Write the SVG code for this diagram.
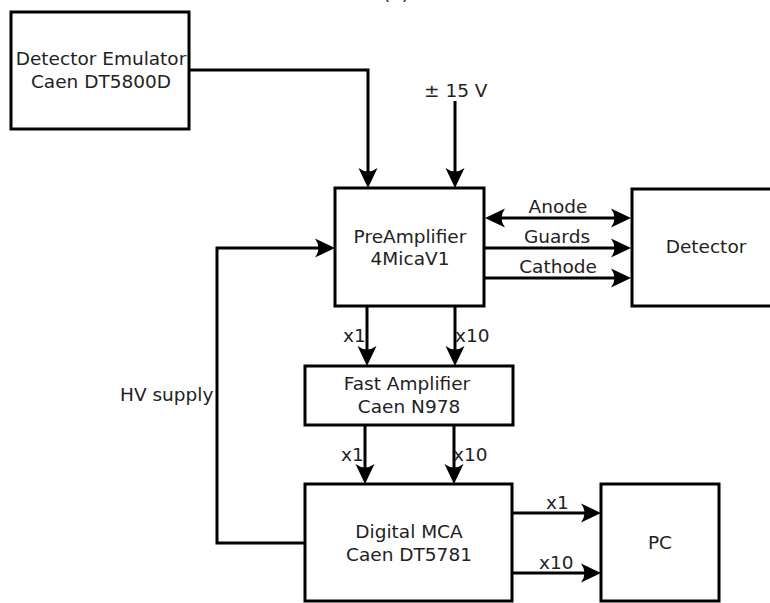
<svg xmlns="http://www.w3.org/2000/svg" xmlns:xlink="http://www.w3.org/1999/xlink" width="770" height="603" viewBox="0 0 770 603">
<style>
.box{fill:#fff;stroke:#000;stroke-width:3}
.ln{fill:none;stroke:#000;stroke-width:3}
text{font-family:"DejaVu Sans",sans-serif;font-size:18.5px;fill:#222}
.c{text-anchor:middle}
</style>
<defs>
<path id="ah" d="M0,0 L-20,-9.5 Q-13,0 -20,9.5 Z" fill="#000"/>
</defs>
<rect width="770" height="603" fill="#fff"/>
<text class="c" x="396" y="0">(a)</text>
<g id="connectors">
<path class="ln" d="M189,70 H368 V180"/>
<use xlink:href="#ah" transform="translate(368,188) rotate(90)"/>
<path class="ln" d="M455,101 V180"/>
<use xlink:href="#ah" transform="translate(455,188) rotate(90)"/>
<path class="ln" d="M493,218 H623"/>
<use xlink:href="#ah" transform="translate(485,218) rotate(180)"/>
<use xlink:href="#ah" transform="translate(631,218)"/>
<path class="ln" d="M484,248 H623"/>
<use xlink:href="#ah" transform="translate(631,248)"/>
<path class="ln" d="M484,278 H623"/>
<use xlink:href="#ah" transform="translate(631,278)"/>
<path class="ln" d="M367,306 V358"/>
<use xlink:href="#ah" transform="translate(367,366) rotate(90)"/>
<path class="ln" d="M455,306 V358"/>
<use xlink:href="#ah" transform="translate(455,366) rotate(90)"/>
<path class="ln" d="M365,425 V476"/>
<use xlink:href="#ah" transform="translate(365,484) rotate(90)"/>
<path class="ln" d="M454,425 V476"/>
<use xlink:href="#ah" transform="translate(454,484) rotate(90)"/>
<path class="ln" d="M512,513 H593"/>
<use xlink:href="#ah" transform="translate(601,513)"/>
<path class="ln" d="M512,573 H593"/>
<use xlink:href="#ah" transform="translate(601,573)"/>
<path class="ln" d="M305,543 H217 V248 H327"/>
<use xlink:href="#ah" transform="translate(335,248)"/>
<text x="424" y="97">± 15 V</text>
<text class="c" x="558" y="213">Anode</text>
<text class="c" x="557" y="243">Guards</text>
<text class="c" x="558" y="273">Cathode</text>
<text x="343" y="342">x1</text>
<text x="455" y="342">x10</text>
<text x="341" y="461">x1</text>
<text x="453" y="461">x10</text>
<text x="546" y="509">x1</text>
<text x="539" y="569">x10</text>
<text x="120" y="401">HV supply</text>
</g>
<g id="emulator">
<rect class="box" x="11" y="12" width="178" height="117"/>
<text class="c" x="101" y="65">Detector Emulator</text>
<text class="c" x="101" y="88">Caen DT5800D</text>
</g>
<g id="preamp">
<rect class="box" x="335" y="188" width="149" height="118"/>
<text class="c" x="410" y="243">PreAmplifier</text>
<text class="c" x="410" y="265">4MicaV1</text>
</g>
<g id="detector">
<rect class="box" x="632" y="189" width="150" height="117"/>
<text class="c" x="706" y="253">Detector</text>
</g>
<g id="fastamp">
<rect class="box" x="305" y="366" width="208" height="59"/>
<text class="c" x="407" y="390">Fast Amplifier</text>
<text class="c" x="409" y="413">Caen N978</text>
</g>
<g id="mca">
<rect class="box" x="305" y="484" width="207" height="117"/>
<text class="c" x="409" y="538">Digital MCA</text>
<text class="c" x="409" y="561">Caen DT5781</text>
</g>
<g id="pc">
<rect class="box" x="601" y="484" width="118" height="117"/>
<text class="c" x="660" y="549">PC</text>
</g>
</svg>
